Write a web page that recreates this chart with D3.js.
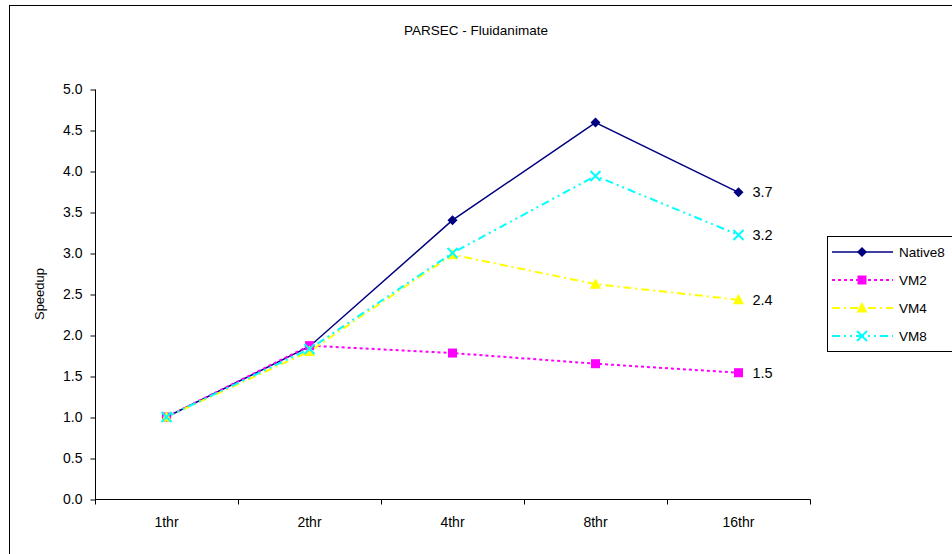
<!DOCTYPE html>
<html>
<head>
<meta charset="utf-8">
<script src="https://cdn.jsdelivr.net/npm/d3@7"></script>
<style>
  html, body { margin: 0; padding: 0; background: #fff; }
  svg { display: block; font-family: "Liberation Sans", Arial, sans-serif; }
</style>
</head>
<body>
<svg id="chart" width="952" height="554"></svg>
<script>
// Thread counts on the x axis
const categories = ["1thr", "2thr", "4thr", "8thr", "16thr"];
// Speedup per configuration
const native8 = [1.0, 1.86, 3.40, 4.59, 3.74];
const vm2 = [1.0, 1.87, 1.78, 1.65, 1.54];
const vm4 = [1.0, 1.80, 2.98, 2.62, 2.43];
const vm8 = [1.0, 1.83, 3.00, 3.94, 3.22];
const seriesNames = ["Native8", "VM2", "VM4", "VM8"];
const yTicks = [0, 0.5, 1, 1.5, 2, 2.5, 3, 3.5, 4, 4.5, 5];

const series = [
  { name: seriesNames[0], values: native8, color: "#000080", dash: null, marker: "diamond" },
  { name: seriesNames[1], values: vm2, color: "#ff00ff", dash: "3,3", marker: "square" },
  { name: seriesNames[2], values: vm4, color: "#ffff00", dash: "8,4,2,4", marker: "triangle" },
  { name: seriesNames[3], values: vm8, color: "#00ffff", dash: "8,4,2,4,2,4", marker: "cross" }
];

const FONT = "Liberation Sans, Arial, sans-serif";
const svg = d3.select("#chart");
const plot = { left: 95, right: 810, top: 89, bottom: 499 };

// Outer chart frame
svg.append("rect")
  .attr("x", 9.5).attr("y", 5.5)
  .attr("width", 960).attr("height", 560)
  .attr("fill", "none").attr("stroke", "#000").attr("stroke-width", 1);

const x = d3.scaleBand().domain(categories).range([plot.left, plot.right]);
const y = d3.scaleLinear().domain([0, 5]).range([plot.bottom, plot.top]);
const cx = c => x(c) + x.bandwidth() / 2;

// Y axis
const yAxis = svg.append("g")
  .attr("transform", `translate(${plot.left + 0.5},0.5)`)
  .call(d3.axisLeft(y).tickValues(yTicks).tickFormat(d3.format(".1f")).tickSize(5).tickPadding(8));
yAxis.attr("font-family", FONT).attr("font-size", 14);
yAxis.selectAll("text").attr("fill", "#000");
yAxis.select(".domain").attr("d", `M0,${plot.top}V${plot.bottom}`);

// X axis with boundary ticks between categories
const xg = svg.append("g").attr("transform", `translate(0,${plot.bottom + 0.5})`);
xg.append("line").attr("x1", plot.left).attr("x2", plot.right + 0.5).attr("stroke", "#000");
const bounds = categories.map(c => x(c)).concat([plot.right]);
xg.selectAll("line.tick").data(bounds).join("line")
  .attr("class", "tick")
  .attr("x1", d => d + 0.5).attr("x2", d => d + 0.5)
  .attr("y1", 0).attr("y2", 5).attr("stroke", "#000");
xg.selectAll("text").data(categories).join("text")
  .attr("x", d => cx(d)).attr("y", 27)
  .attr("text-anchor", "middle").attr("font-size", 14)
  .text(d => d);

// Title and axis label
svg.append("text").attr("x", 476).attr("y", 35).attr("text-anchor", "middle")
  .attr("font-size", 13.5).text("PARSEC - Fluidanimate");
svg.append("text").attr("transform", `translate(44,${(plot.top + plot.bottom) / 2}) rotate(-90)`)
  .attr("text-anchor", "middle").attr("font-size", 13).text("Speedup");

function drawMarker(g, type, color) {
  if (type === "diamond") {
    g.append("path").attr("d", "M0,-5L5,0L0,5L-5,0Z").attr("fill", color);
  } else if (type === "square") {
    g.append("rect").attr("x", -4.5).attr("y", -4.5).attr("width", 9).attr("height", 9).attr("fill", color);
  } else if (type === "triangle") {
    g.append("path").attr("d", "M0,-6L5.5,4.5L-5.5,4.5Z").attr("fill", color);
  } else {
    g.append("path").attr("d", "M-5,-5L5,5M-5,5L5,-5").attr("stroke", color).attr("stroke-width", 2);
  }
}

const line = d3.line().x((d, i) => cx(categories[i])).y(d => y(d));

series.forEach(s => {
  svg.append("path").datum(s.values)
    .attr("d", line).attr("fill", "none")
    .attr("stroke", s.color).attr("stroke-width", s.dash ? 2 : 1.5)
    .attr("stroke-dasharray", s.dash);
});
series.forEach(s => {
  s.values.forEach((v, i) => {
    const g = svg.append("g").attr("transform", `translate(${cx(categories[i])},${y(v)})`);
    drawMarker(g, s.marker, s.color);
  });
  // Value label at the last point
  const last = s.values[s.values.length - 1];
  svg.append("text")
    .attr("x", cx(categories[categories.length - 1]) + 14)
    .attr("y", y(last) + 5)
    .attr("font-size", 14.5).text(d3.format(".1f")(last));
});

// Legend
const lg = svg.append("g");
lg.append("rect").attr("x", 827.5).attr("y", 236.5).attr("width", 140).attr("height", 115)
  .attr("fill", "#fff").attr("stroke", "#000");
series.forEach((s, i) => {
  const ly = 252 + i * 28;
  lg.append("line").attr("x1", 832).attr("x2", 893).attr("y1", ly).attr("y2", ly)
    .attr("stroke", s.color).attr("stroke-width", s.dash ? 2 : 1.5)
    .attr("stroke-dasharray", s.dash);
  const g = lg.append("g").attr("transform", `translate(862,${ly})`);
  drawMarker(g, s.marker, s.color);
  lg.append("text").attr("x", 899).attr("y", ly + 5).attr("font-size", 13.5).text(s.name);
});
</script>
</body>
</html>
